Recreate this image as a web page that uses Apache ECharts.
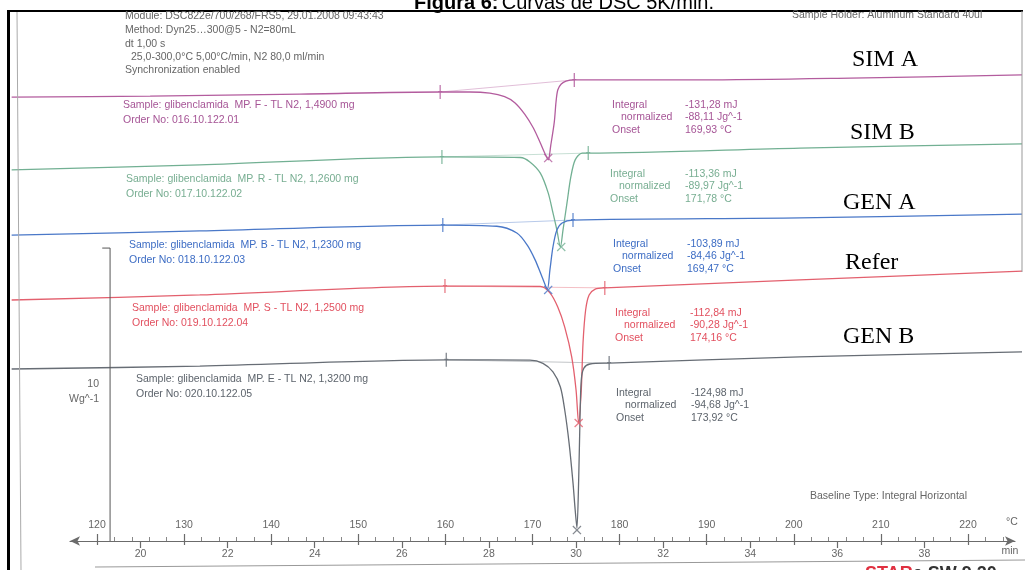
<!DOCTYPE html>
<html>
<head>
<meta charset="utf-8">
<script src="https://cdn.jsdelivr.net/npm/echarts@6/dist/echarts.min.js"></script>
<style>
html,body{margin:0;padding:0;background:#fff;}
#chart{width:1025px;height:570px;}
</style>
</head>
<body>
<div id="chart"></div>
<script>
// DSC curves, x = temperature (°C), y = heat flow (Wg^-1, stacked offsets)
var simA = [[110.2,15.05],[126.1,15.08],[143.3,15.15],[159.4,15.22],[162.8,15.22],[165.1,15.18],[166.8,15.06],[168.0,14.85],[169.1,14.47],[170.1,14.0],[170.9,13.49],[171.4,13.15],[171.8,12.92],[172.1,13.42],[172.5,14.2],[172.7,14.88],[172.9,15.29],[173.3,15.49],[173.85,15.59],[174.8,15.63],[189.2,15.63],[206.5,15.69],[226.2,15.8]];
var simB = [[110.2,12.58],[131.8,12.75],[159.6,13.02],[168.6,13.0],[169.7,12.85],[170.9,12.47],[171.8,11.8],[172.35,11.12],[172.8,10.54],[173.2,9.97],[173.5,10.54],[173.96,11.46],[174.4,12.34],[174.9,12.92],[175.7,13.15],[176.4,13.15],[200.7,13.32],[226.2,13.46]];
var genA = [[110.2,10.37],[131.8,10.51],[159.7,10.71],[165.9,10.67],[168.2,10.44],[169.4,10.03],[170.3,9.53],[171.1,8.95],[171.7,8.54],[172.0,9.19],[172.35,9.97],[172.8,10.54],[173.4,10.78],[174.65,10.88],[200.7,10.95],[226.2,11.08]];
var refer = [[110.2,8.17],[131.8,8.34],[159.95,8.64],[170.9,8.63],[172.0,8.41],[172.9,7.93],[173.7,7.25],[174.5,6.24],[175.0,5.12],[175.3,4.0],[175.6,5.12],[175.8,6.71],[176.1,7.83],[176.5,8.34],[177.2,8.54],[178.3,8.58],[200.7,8.85],[226.2,9.15]];
var genB = [[110.2,5.83],[131.8,5.93],[160.1,6.14],[169.7,6.13],[171.2,6.02],[172.35,5.73],[173.2,5.22],[173.7,4.44],[174.2,3.32],[174.65,1.97],[174.9,1.05],[175.1,0.44],[175.3,2.07],[175.45,4.1],[175.6,5.46],[175.9,5.86],[176.6,6.0],[178.8,6.03],[200.7,6.24],[226.2,6.41]];

// peak markers (X) and integration limits
var peakPoints = [[171.8,12.98],[173.3,9.97],[171.8,8.51],[175.3,4.0],[175.1,0.37]];
var limitLeft = [[159.4,15.22],[159.6,13.02],[159.7,10.71],[159.95,8.64],[160.1,6.14]];
var limitRight = [[174.8,15.63],[176.4,13.15],[174.65,10.88],[178.3,8.58],[178.8,6.03]];
var scaleBar = [[120.6,9.93],[121.5,9.93],[121.5,0]];

var tempTicks = [120,130,140,150,160,170,180,190,200,210,220];
var tempMinor = [122,124,126,128,132,134,136,138,142,144,146,148,152,154,156,158,162,164,166,168,172,174,176,178,182,184,186,188,192,194,196,198,202,204,206,208,212,214,216,218,222,224];
var timeTicks = [20,22,24,26,28,30,32,34,36,38];

var sampleNames = ['SIM A','SIM B','GEN A','Refer','GEN B'];
var sampleLines = ['Sample: glibenclamida  MP. F - TL N2, 1,4900 mg','Sample: glibenclamida  MP. R - TL N2, 1,2600 mg','Sample: glibenclamida  MP. B - TL N2, 1,2300 mg','Sample: glibenclamida  MP. S - TL N2, 1,2500 mg','Sample: glibenclamida  MP. E - TL N2, 1,3200 mg'];
var orderNos = ['Order No: 016.10.122.01','Order No: 017.10.122.02','Order No: 018.10.122.03','Order No: 019.10.122.04','Order No: 020.10.122.05'];
var integrals = ['-131,28 mJ','-113,36 mJ','-103,89 mJ','-112,84 mJ','-124,98 mJ'];
var normalized = ['-88,11 Jg^-1','-89,97 Jg^-1','-84,46 Jg^-1','-90,28 Jg^-1','-94,68 Jg^-1'];
var onsets = ['169,93 °C','171,78 °C','169,47 °C','174,16 °C','173,92 °C'];

var curves = [simA, simB, genA, refer, genB];
var colors = ['#b35c9e','#72b093','#4a78c8','#e3606e','#676d75'];
var textColors = ['#a65596','#78ae92','#3c6cc4','#e2505f','#5d646c'];

// layout of the text blocks
var sampleX = [123,126,129,132,136], sampleY = [105,179,245,308,379];
var intX = [612,610,613,615,616], intY = [105,174,244,313,393];
var valX = [685,685,687,690,691];
var nameX = [852,850,843,845,843], nameY = [60,133,203,263,337];

var FONT = '10.5px "Liberation Sans"';
var GREY = '#666';
var xPath = 'path://M0,1L1,0L5,4L9,0L10,1L6,5L10,9L9,10L5,6L1,10L0,9L4,5Z';
var bracketPath = 'path://M1,0L2,0L2,6L3,6L3,7L2,7L2,14L1,14L1,7L0,7L0,6L1,6Z';

var myChart = echarts.init(document.getElementById('chart'), null, {renderer: 'canvas'});

var series = [];
curves.forEach(function(c, i){
    series.push({type:'line', xAxisIndex:0, yAxisIndex:0, data:c, showSymbol:false, smooth:0.3,
        lineStyle:{color:colors[i], width:1.3}, silent:true, z:3});
    series.push({type:'line', xAxisIndex:0, yAxisIndex:0, data:[limitLeft[i], limitRight[i]], showSymbol:false,
        lineStyle:{color:colors[i], width:1, opacity:0.4}, silent:true, z:2});
    series.push({type:'scatter', xAxisIndex:0, yAxisIndex:0, data:[limitLeft[i], limitRight[i]], symbol:bracketPath,
        symbolSize:[4,14], itemStyle:{color:colors[i]}, silent:true, z:4});
    series.push({type:'scatter', xAxisIndex:0, yAxisIndex:0, data:[peakPoints[i]], symbol:xPath,
        symbolSize:9, itemStyle:{color:colors[i]}, silent:true, z:4});
});
series.push({type:'line', xAxisIndex:0, yAxisIndex:0, data:scaleBar, showSymbol:false,
    lineStyle:{color:'#555', width:1}, silent:true});

function txt(x, y, text, color, extra){
    var s = {text:text, x:x, y:y, fill:color, font:FONT, align:'left', verticalAlign:'middle'};
    for (var k in extra) s[k] = extra[k];
    return {type:'text', silent:true, style:s, z:10};
}
function ln(x1, y1, x2, y2, color, w){
    return {type:'line', silent:true, shape:{x1:x1,y1:y1,x2:x2,y2:y2}, style:{stroke:color, lineWidth:w}, z:10};
}

var graphic = [
    ln(10,11,1023,11,'#000',2),
    {type:'rect', silent:true, shape:{x:7,y:10,width:3,height:560}, style:{fill:'#000'}, z:10},
    ln(17,12,21,570,'#aaa',1),
    ln(1022,11,1022,272,'#999',1),
    ln(95,567,1025,560,'#999',1),
    {type:'text', silent:true, z:10, style:{x:564, y:13, align:'center', verticalAlign:'bottom',
        text:'{b|Figura 6:} {n|Curvas de DSC 5K/min.}',
        rich:{b:{fontWeight:'bold', fontSize:20, fontFamily:'Liberation Sans', fill:'#000'},
              n:{fontSize:20, fontFamily:'Liberation Sans', fill:'#000'}}}},
    txt(125,16,'Module: DSC822e/700/268/FRS5, 29.01.2008 09:43:43',GREY),
    txt(125,30,'Method: Dyn25…300@5 - N2=80mL',GREY),
    txt(125,44,'dt 1,00 s',GREY),
    txt(131,57,'25,0-300,0°C 5,00°C/min, N2 80,0 ml/min',GREY),
    txt(125,70,'Synchronization enabled',GREY),
    txt(792,15,'Sample Holder: Aluminum Standard 40ul',GREY),
    txt(99,384,'10',GREY,{align:'right'}),
    txt(99,399,'Wg^-1',GREY,{align:'right'}),
    txt(810,496,'Baseline Type: Integral Horizontal',GREY),
    txt(1012,522,'°C',GREY,{align:'center'}),
    txt(1010,551,'min',GREY,{align:'center'}),
    {type:'text', silent:true, z:10, style:{x:865, y:565, align:'left', verticalAlign:'top',
        text:'{r|STAR}{k|e SW 9.20}',
        rich:{r:{fontWeight:'bold', fontSize:18, fontFamily:'Liberation Sans', fill:'#e03040'},
              k:{fontWeight:'bold', fontSize:18, fontFamily:'Liberation Sans', fill:'#333'}}}}
];
for (var i = 0; i < 5; i++){
    var c = textColors[i];
    graphic.push(txt(sampleX[i], sampleY[i], sampleLines[i], c));
    graphic.push(txt(sampleX[i], sampleY[i] + 15, orderNos[i], c));
    graphic.push(txt(intX[i], intY[i], 'Integral', c));
    graphic.push(txt(intX[i] + 9, intY[i] + 12.5, 'normalized', c));
    graphic.push(txt(intX[i], intY[i] + 25, 'Onset', c));
    graphic.push(txt(valX[i], intY[i], integrals[i], c));
    graphic.push(txt(valX[i], intY[i] + 12.5, normalized[i], c));
    graphic.push(txt(valX[i], intY[i] + 25, onsets[i], c));
    graphic.push(txt(nameX[i], nameY[i], sampleNames[i], '#000', {font:'24px "Liberation Serif"'}));
}

var axisCol = {color:'#6b6b6b', width:1.2};
var option = {
    animation: false,
    grid: [
        {left:12, right:3, top:10, bottom:29},
        {left:70, right:10, top:500, bottom:29}
    ],
    xAxis: [
        {gridIndex:0, type:'value', min:110.24, max:226.2, show:false},
        {gridIndex:1, type:'value', position:'bottom', min:116.9, max:225.4,
            axisLine:{show:true, lineStyle:axisCol, symbol:['arrow','arrow'], symbolSize:[7,10]},
            axisTick:{show:true, customValues:tempTicks, inside:true, length:7, lineStyle:axisCol},
            axisLabel:{show:true, customValues:tempTicks, inside:true, margin:10, color:GREY, fontSize:10.5, fontFamily:'Liberation Sans'},
            splitLine:{show:false}},
        {gridIndex:1, type:'value', position:'bottom', min:116.9, max:225.4,
            axisLine:{show:false},
            axisTick:{show:true, customValues:tempTicks, length:4, lineStyle:axisCol},
            axisLabel:{show:false}, splitLine:{show:false}},
        {gridIndex:1, type:'value', position:'bottom', min:116.9, max:225.4,
            axisLine:{show:false},
            axisTick:{show:true, customValues:tempMinor, inside:true, length:4, lineStyle:{color:'#888', width:1}},
            axisLabel:{show:false}, splitLine:{show:false}},
        {gridIndex:1, type:'value', position:'bottom', min:18.38, max:40.08,
            axisLine:{show:false},
            axisTick:{show:true, customValues:timeTicks, length:7, lineStyle:axisCol},
            axisLabel:{show:true, customValues:timeTicks, margin:8, color:GREY, fontSize:10.5, fontFamily:'Liberation Sans'},
            splitLine:{show:false}}
    ],
    yAxis: [
        {gridIndex:0, type:'value', min:0, max:18, show:false},
        {gridIndex:1, type:'value', min:0, max:1, show:false}
    ],
    graphic: graphic,
    series: series
};
myChart.setOption(option);
</script>
</body>
</html>
